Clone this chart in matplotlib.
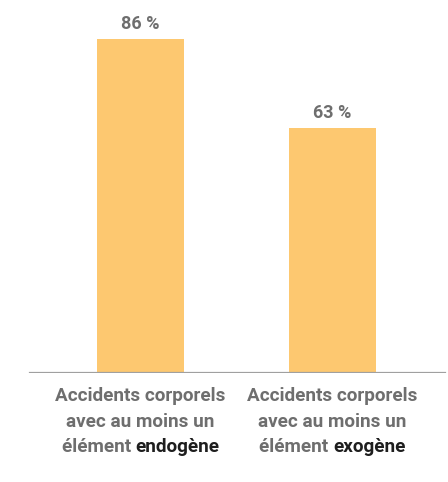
import matplotlib
matplotlib.use("Agg")
import matplotlib.pyplot as plt
from matplotlib.transforms import offset_copy

categories = ["endogène", "exogène"]
values = [86, 63]
value_labels = ["86 %", "63 %"]
label_lines = ["Accidents corporels", "avec au moins un"]
label_prefix = "élément "

BAR = "#FDC870"
GRAY = "#6e6e6e"
DARK = "#1e1e1e"
FONT = ["Roboto", "Liberation Sans", "DejaVu Sans"]

fig = plt.figure(figsize=(4.48, 4.82), dpi=100)
ax = fig.add_axes([0, 0.2261, 1, 0.7739])
ax.set_xlim(-0.732, 1.602)
ax.set_ylim(0, 95.9)
ax.axis("off")

x = list(range(len(categories)))
ax.bar(x, values, width=0.455, color=BAR, zorder=2)
ax.axhline(0, xmin=0.066, xmax=0.993, color="#a0a0a0", lw=1.6, zorder=3)

for xi, v, lab in zip(x, values, value_labels):
    ax.annotate(lab, (xi, v), xytext=(0, 4), textcoords="offset points",
                ha="center", va="bottom", fontsize=13, fontweight="bold",
                color=GRAY, family=FONT)

fs = 13.6
line_offsets = [-23, -49, -74]  # pixel offsets below the baseline
renderer = fig.canvas.get_renderer()
for xi, cat in zip(x, categories):
    for line, dy in zip(label_lines, line_offsets[:2]):
        tr = offset_copy(ax.transData, fig=fig, x=0, y=dy, units="dots")
        ax.text(xi, 0, line, transform=tr, ha="center", va="center",
                fontsize=fs, fontweight="bold", color=GRAY, family=FONT)
    # last line: gray prefix followed by the dark keyword, centred together
    t1 = ax.text(xi, 0, label_prefix, ha="left", va="center", fontsize=fs,
                 fontweight="bold", color=GRAY, family=FONT)
    t2 = ax.text(xi, 0, cat, ha="left", va="center", fontsize=fs,
                 fontweight="bold", color=DARK, family=FONT)
    w1 = t1.get_window_extent(renderer).width
    w2 = t2.get_window_extent(renderer).width
    start = -(w1 + w2) / 2
    t1.set_transform(offset_copy(ax.transData, fig=fig, x=start,
                                 y=line_offsets[2], units="dots"))
    t2.set_transform(offset_copy(ax.transData, fig=fig, x=start + w1,
                                 y=line_offsets[2], units="dots"))

fig.savefig("out.png", dpi=100, facecolor="white")
